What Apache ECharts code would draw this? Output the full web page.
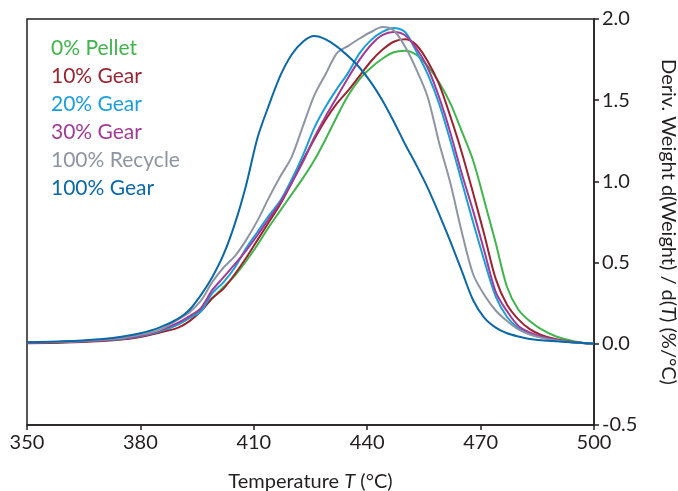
<!DOCTYPE html>
<html>
<head>
<meta charset="utf-8">
<script src="https://cdn.jsdelivr.net/npm/echarts@6/dist/echarts.min.js"></script>
<style>html,body{margin:0;padding:0;background:#fff}#c{width:678px;height:491px}</style>
</head>
<body>
<div id="c"></div>
<script>
const temps = [350,360,370,375,380,385,390,393,396,399,402,405,408,411,414,417,420,423,426,429,432,435,438,441,444,447,450,453,456,459,462,465,468,471,474,477,480,483,486,490,495,500];

const pellet0 = [0.005,0.01,0.02,0.028,0.045,0.072,0.12,0.16,0.21,0.28,0.35,0.42,0.51,0.61,0.72,0.82,0.92,1.02,1.13,1.26,1.40,1.53,1.63,1.70,1.755,1.795,1.805,1.78,1.71,1.61,1.48,1.31,1.13,0.88,0.62,0.35,0.21,0.14,0.09,0.045,0.015,0.0];
const gear10 = [0.003,0.008,0.018,0.026,0.042,0.068,0.10,0.14,0.20,0.28,0.34,0.43,0.53,0.64,0.75,0.86,0.99,1.13,1.26,1.38,1.48,1.56,1.65,1.74,1.81,1.86,1.875,1.84,1.74,1.60,1.40,1.18,0.93,0.67,0.40,0.24,0.15,0.09,0.055,0.028,0.01,0.0];
const gear20 = [0.008,0.012,0.022,0.03,0.047,0.075,0.12,0.16,0.20,0.31,0.38,0.47,0.59,0.69,0.79,0.88,1.01,1.16,1.33,1.46,1.57,1.67,1.79,1.87,1.92,1.945,1.92,1.80,1.66,1.48,1.25,1.00,0.75,0.51,0.29,0.165,0.095,0.06,0.04,0.022,0.008,0.0];
const gear30 = [0.008,0.012,0.022,0.032,0.05,0.08,0.13,0.17,0.22,0.33,0.41,0.49,0.575,0.67,0.77,0.87,0.99,1.12,1.27,1.40,1.52,1.64,1.75,1.84,1.90,1.92,1.90,1.82,1.70,1.52,1.30,1.05,0.82,0.57,0.32,0.20,0.11,0.07,0.045,0.024,0.008,0.0];
const recycle100 = [0.01,0.013,0.025,0.035,0.055,0.085,0.15,0.195,0.265,0.38,0.47,0.54,0.64,0.76,0.90,1.03,1.15,1.34,1.53,1.66,1.79,1.835,1.88,1.92,1.95,1.93,1.83,1.69,1.52,1.24,0.99,0.69,0.43,0.30,0.205,0.14,0.088,0.057,0.038,0.02,0.008,0.0];
const gear100 = [0.01,0.015,0.03,0.043,0.065,0.10,0.155,0.21,0.30,0.41,0.55,0.74,0.98,1.27,1.47,1.65,1.78,1.86,1.895,1.875,1.83,1.77,1.70,1.61,1.50,1.37,1.23,1.10,0.96,0.80,0.63,0.45,0.27,0.16,0.10,0.065,0.045,0.03,0.022,0.015,0.008,0.0];

const seriesNames = ['0% Pellet','10% Gear','20% Gear','30% Gear','100% Recycle','100% Gear'];
const seriesColors = ['#3fb54b','#9a2530','#1a9fdb','#a23b98','#8e95a2','#0b68a8'];
const seriesValues = [pellet0, gear10, gear20, gear30, recycle100, gear100];

const xTicks = {min: 350, max: 500, step: 30};
const yTicks = {min: -0.5, max: 2.0, step: 0.5};

const FONT = 'Lato';
const TXT = '#231f20';

const chart = echarts.init(document.getElementById('c'), null, {renderer: 'canvas'});
chart.setOption({
  animation: false,
  backgroundColor: '#fff',
  grid: {left: 27, right: 84, top: 19, bottom: 66, show: true, borderColor: TXT, borderWidth: 1.5,
         containLabel: false, outerBoundsMode: 'none'},
  legend: {
    orient: 'vertical', left: 41, top: 33, itemGap: 7, itemWidth: 0, itemHeight: 21, icon: 'none',
    data: seriesNames.map((n, i) => ({name: n, textStyle: {color: seriesColors[i]}})),
    textStyle: {fontFamily: FONT, fontSize: 21}
  },
  xAxis: {
    type: 'value', min: xTicks.min, max: xTicks.max, interval: xTicks.step,
    name: 'Temperature {i|T} (°C)', nameLocation: 'middle', nameGap: 47,
    nameTextStyle: {fontFamily: FONT, fontSize: 20, color: TXT, rich: {i: {fontStyle: 'italic', fontFamily: FONT, fontSize: 20, color: TXT}}},
    axisLine: {show: true, onZero: false, lineStyle: {color: TXT, width: 1.5}},
    axisTick: {show: true, length: 5, inside: false, lineStyle: {color: TXT, width: 1.5}},
    axisLabel: {fontFamily: FONT, fontSize: 20, color: TXT, margin: 8},
    splitLine: {show: false}
  },
  yAxis: {
    type: 'value', position: 'right', min: yTicks.min, max: yTicks.max, interval: yTicks.step,
    name: 'Deriv. Weight d(Weight) / d({i|T}) (%/°C)', nameLocation: 'middle', nameGap: 64, nameRotate: -90,
    nameTextStyle: {fontFamily: FONT, fontSize: 20, color: TXT, rich: {i: {fontStyle: 'italic', fontFamily: FONT, fontSize: 20, color: TXT}}},
    axisLine: {show: true, onZero: false, lineStyle: {color: TXT, width: 1.5}},
    axisTick: {show: true, length: 5, inside: false, lineStyle: {color: TXT, width: 1.5}},
    axisLabel: {fontFamily: FONT, fontSize: 20, color: TXT, margin: 8, formatter: v => v.toFixed(1)},
    splitLine: {show: false}
  },
  series: seriesNames.map((n, i) => ({
    name: n, type: 'line', smooth: 0.3, showSymbol: false, symbol: 'none',
    data: temps.map((t, k) => [t, seriesValues[i][k]]),
    lineStyle: {color: seriesColors[i], width: 2},
    itemStyle: {color: seriesColors[i]}
  }))
});
</script>
</body>
</html>
